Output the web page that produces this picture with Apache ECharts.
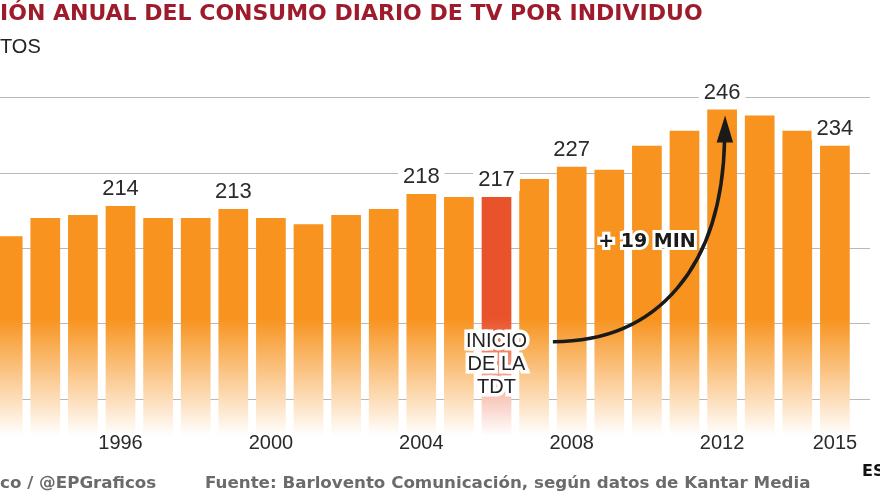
<!DOCTYPE html>
<html>
<head>
<meta charset="utf-8">
<script src="https://cdn.jsdelivr.net/npm/echarts@6/dist/echarts.min.js"></script>
<style>
html,body{margin:0;padding:0;background:#fff;}
#chart{width:880px;height:495px;}
</style>
</head>
<body>
<div id="chart"></div>
<script>
// ---- data ----
const years = ['1993','1994','1995','1996','1997','1998','1999','2000','2001','2002','2003','2004','2005','2006','2007','2008','2009','2010','2011','2012','2013','2014','2015'];
const minutes = [204,210,211,214,210,210,213,210,208,211,213,218,217,217,223,227,226,234,239,246,244,239,234];
const labeledYears = ['1996','1999','2004','2006','2008','2012','2015'];
const tickYears = ['1996','2000','2004','2008','2012','2015'];
const highlightYear = '2006';
const titleText = 'IÓN ANUAL DEL CONSUMO DIARIO DE TV POR INDIVIDUO';
const unitText = 'TOS';
const creditText = 'co / @EPGraficos';
const sourceText = 'Fuente: Barlovento Comunicación, según datos de Kantar Media';
const logoText = 'ES';
const tdtText = 'INICIO\nDE LA\nTDT';
const gainText = '+ 19 MIN';
// annotation anchors (category, value)
const tdtAnchor = ['2006', 161.5];
const gainAnchor = ['2010', 202];
const arrowStart = ['2007', '2008', 169];
const arrowEnd = ['2012', 244];

const FONT = '"Liberation Sans", Arial, Helvetica, sans-serif';
const BOLDFONT = '"DejaVu Sans", "Liberation Sans", Arial, sans-serif';
const chart = echarts.init(document.getElementById('chart'), null, {renderer: 'canvas'});

function fade(c) {
  return new echarts.graphic.LinearGradient(0, 318, 0, 436, [
    {offset: 0, color: c},
    {offset: 1, color: '#ffffff'}
  ], true);
}

const barData = years.map((y, i) => {
  const item = {value: minutes[i]};
  if (y === highlightYear) item.itemStyle = {color: fade('#e9532b')};
  if (labeledYears.includes(y)) item.label = {show: true};
  return item;
});

const gridTop = 97.5, gridBottom = 20.6;

chart.setOption({
  backgroundColor: '#fff',
  animation: false,
  title: [
    {text: titleText, left: 0, top: 3.5, padding: 0,
     textStyle: {fontFamily: BOLDFONT, fontSize: 22, fontWeight: 'bold', color: '#9e1b2c'}},
    {text: unitText, left: 0, top: 37, padding: 0,
     textStyle: {fontFamily: FONT, fontSize: 20, fontWeight: 'normal', color: '#222'}},
    {text: creditText, left: 0, top: 475, padding: 0,
     textStyle: {fontFamily: BOLDFONT, fontSize: 16.7, fontWeight: 'bold', color: '#6b6b6b'}},
    {text: sourceText, left: 205, top: 475, padding: 0,
     textStyle: {fontFamily: BOLDFONT, fontSize: 16.7, fontWeight: 'bold', color: '#6b6b6b'}},
    {text: logoText, left: 862, top: 464, padding: 0,
     textStyle: {fontFamily: BOLDFONT, fontSize: 16, fontWeight: 'bold', color: '#111'}}
  ],
  grid: [
    {left: -11.1, right: 26.3, top: gridTop, bottom: gridBottom, outerBoundsMode: 'none', containLabel: false},
    {left: 0, right: 10, top: gridTop, bottom: gridBottom, outerBoundsMode: 'none'}
  ],
  xAxis: [
    {type: 'category', gridIndex: 0, data: years, z: 10,
     axisLine: {show: false}, axisTick: {show: false},
     axisLabel: {
       interval: (idx, val) => tickYears.includes(val),
       margin: -41, fontFamily: FONT, fontSize: 20, color: '#2a2a2a'
     },
     splitLine: {show: false}},
    {type: 'value', gridIndex: 1, min: 0, max: 1, show: false}
  ],
  yAxis: [
    {type: 'value', gridIndex: 0, min: 125, max: 250, show: false, splitLine: {show: false}},
    {type: 'value', gridIndex: 1, min: 125, max: 250, interval: 25,
     axisLine: {show: false}, axisTick: {show: false}, axisLabel: {show: false},
     splitLine: {show: true, lineStyle: {color: ['rgba(0,0,0,0)', '#b8b8b8', '#b8b8b8', '#b8b8b8', '#b8b8b8', '#b8b8b8'], width: 1}}}
  ],
  series: [{
    type: 'bar',
    xAxisIndex: 0, yAxisIndex: 0,
    data: barData,
    barCategoryGap: '21%',
    z: 3,
    itemStyle: {color: fade('#f7931e')},
    label: {
      show: false, position: 'top', distance: 6,
      fontFamily: FONT, fontSize: 22, color: '#2a2a2a',
      backgroundColor: '#fff', padding: [0, 5, 0, 5]
    }
  }]
});

function px(cat, val) {
  return chart.convertToPixel({xAxisIndex: 0, yAxisIndex: 0}, [cat, val]);
}

const a0 = px(arrowStart[0], arrowStart[2]);
const a1 = px(arrowStart[1], arrowStart[2]);
const sx = (a0[0] + a1[0]) / 2, sy = a0[1];
const tip = px(arrowEnd[0], arrowEnd[1]);
const tx = tip[0] + 3, ty = tip[1];
const ex = tx - 0.5, ey = ty + 24;
const dx = ex - sx, dy = sy - ey;
const tdtPos = px(tdtAnchor[0], tdtAnchor[1]);
const gainPos = px(gainAnchor[0], gainAnchor[1]);

chart.setOption({
  graphic: [
    {type: 'bezierCurve', z: 100,
     shape: {x1: sx, y1: sy, cpx1: sx + 0.62 * dx, cpy1: sy, cpx2: ex - 2.5, cpy2: ey + 0.62 * dy, x2: ex, y2: ey},
     style: {stroke: '#1a1a1a', lineWidth: 3.5, fill: null}},
    {type: 'polygon', z: 100,
     shape: {points: [[tx, ty], [tx - 8.5, ty + 27], [tx + 8, ty + 27]]},
     style: {fill: '#1a1a1a'}},
    {type: 'text', z: 101, x: tdtPos[0], y: tdtPos[1],
     style: {text: tdtText, fontFamily: FONT, fontSize: 20, lineHeight: 23, fill: '#222',
             align: 'center', verticalAlign: 'middle', stroke: '#fff', lineWidth: 7}},
    {type: 'text', z: 101, x: gainPos[0], y: gainPos[1],
     style: {text: gainText, fontFamily: BOLDFONT, fontSize: 19, fontWeight: 'bold', fill: '#1a1a1a',
             align: 'center', verticalAlign: 'middle', stroke: '#fff', lineWidth: 6}}
  ]
});
</script>
</body>
</html>
